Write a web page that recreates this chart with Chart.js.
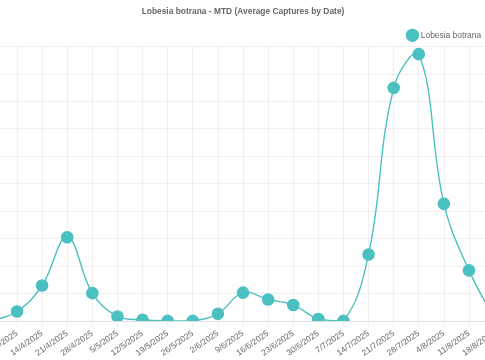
<!DOCTYPE html>
<html>
<head>
<meta charset="utf-8">
<script src="https://cdn.jsdelivr.net/npm/chart.js@4"></script>
<style>
  html, body { margin: 0; padding: 0; width: 485px; height: 360px; overflow: hidden; background: #fff; }
  #c { position: absolute; left: -51px; top: 0; transform: scale(0.7); transform-origin: 0 0; }
</style>
</head>
<body>
<canvas id="c" width="840" height="520"></canvas>
<script>
const categories = ['31/3/2025','7/4/2025','14/4/2025','21/4/2025','28/4/2025','5/5/2025','12/5/2025','19/5/2025','26/5/2025','2/6/2025','9/6/2025','16/6/2025','23/6/2025','30/6/2025','7/7/2025','14/7/2025','21/7/2025','28/7/2025','4/8/2025','11/8/2025','18/8/2025'];
const captures = [0, 0.34, 1.29, 3.05, 1.01, 0.16, 0.04, 0, 0, 0.26, 1.03, 0.78, 0.58, 0.07, 0, 2.42, 8.49, 9.72, 4.27, 1.84, 0.1];
const seriesName = 'Lobesia botrana';
const chartTitle = 'Lobesia botrana - MTD (Average Captures by Date)';

Chart.defaults.font.family = "'Liberation Sans', Arial, Helvetica, sans-serif";
Chart.defaults.color = '#666';

const legendShift = {
  id: 'legendShift',
  afterLayout(chart) {
    if (chart.legend) { chart.legend.left -= 8.6; chart.legend.right -= 8.6; }
  }
};

new Chart(document.getElementById('c'), {
  type: 'line',
  data: {
    labels: categories,
    datasets: [{
      label: seriesName,
      data: captures,
      borderColor: '#4BC0C0',
      backgroundColor: '#4BC0C0',
      borderWidth: 2,
      pointRadius: 8,
      pointHoverRadius: 8,
      tension: 0.4,
      fill: false
    }]
  },
  options: {
    responsive: false,
    devicePixelRatio: 0.7,
    animation: false,
    layout: { padding: { left: 61.3, right: 61.3, top: 0, bottom: 5.4 } },
    plugins: {
      title: { display: true, text: chartTitle, font: { size: 12, weight: 'bold' }, color: '#666' },
      legend: { position: 'top', align: 'end', labels: { usePointStyle: true, font: { size: 12 }, color: '#666' } },
      tooltip: { enabled: false }
    },
    scales: {
      x: {
        grid: { color: 'rgba(0,0,0,0.1)' },
        ticks: { font: { size: 12 }, color: '#666', autoSkip: false }
      },
      y: {
        min: 0, max: 10,
        ticks: { display: false, stepSize: 1 },
        grid: { color: 'rgba(0,0,0,0.1)', drawTicks: false },
        border: { display: false },
        afterFit(scale) { scale.width = 0; }
      }
    }
  },
  plugins: [legendShift]
});
</script>
</body>
</html>
